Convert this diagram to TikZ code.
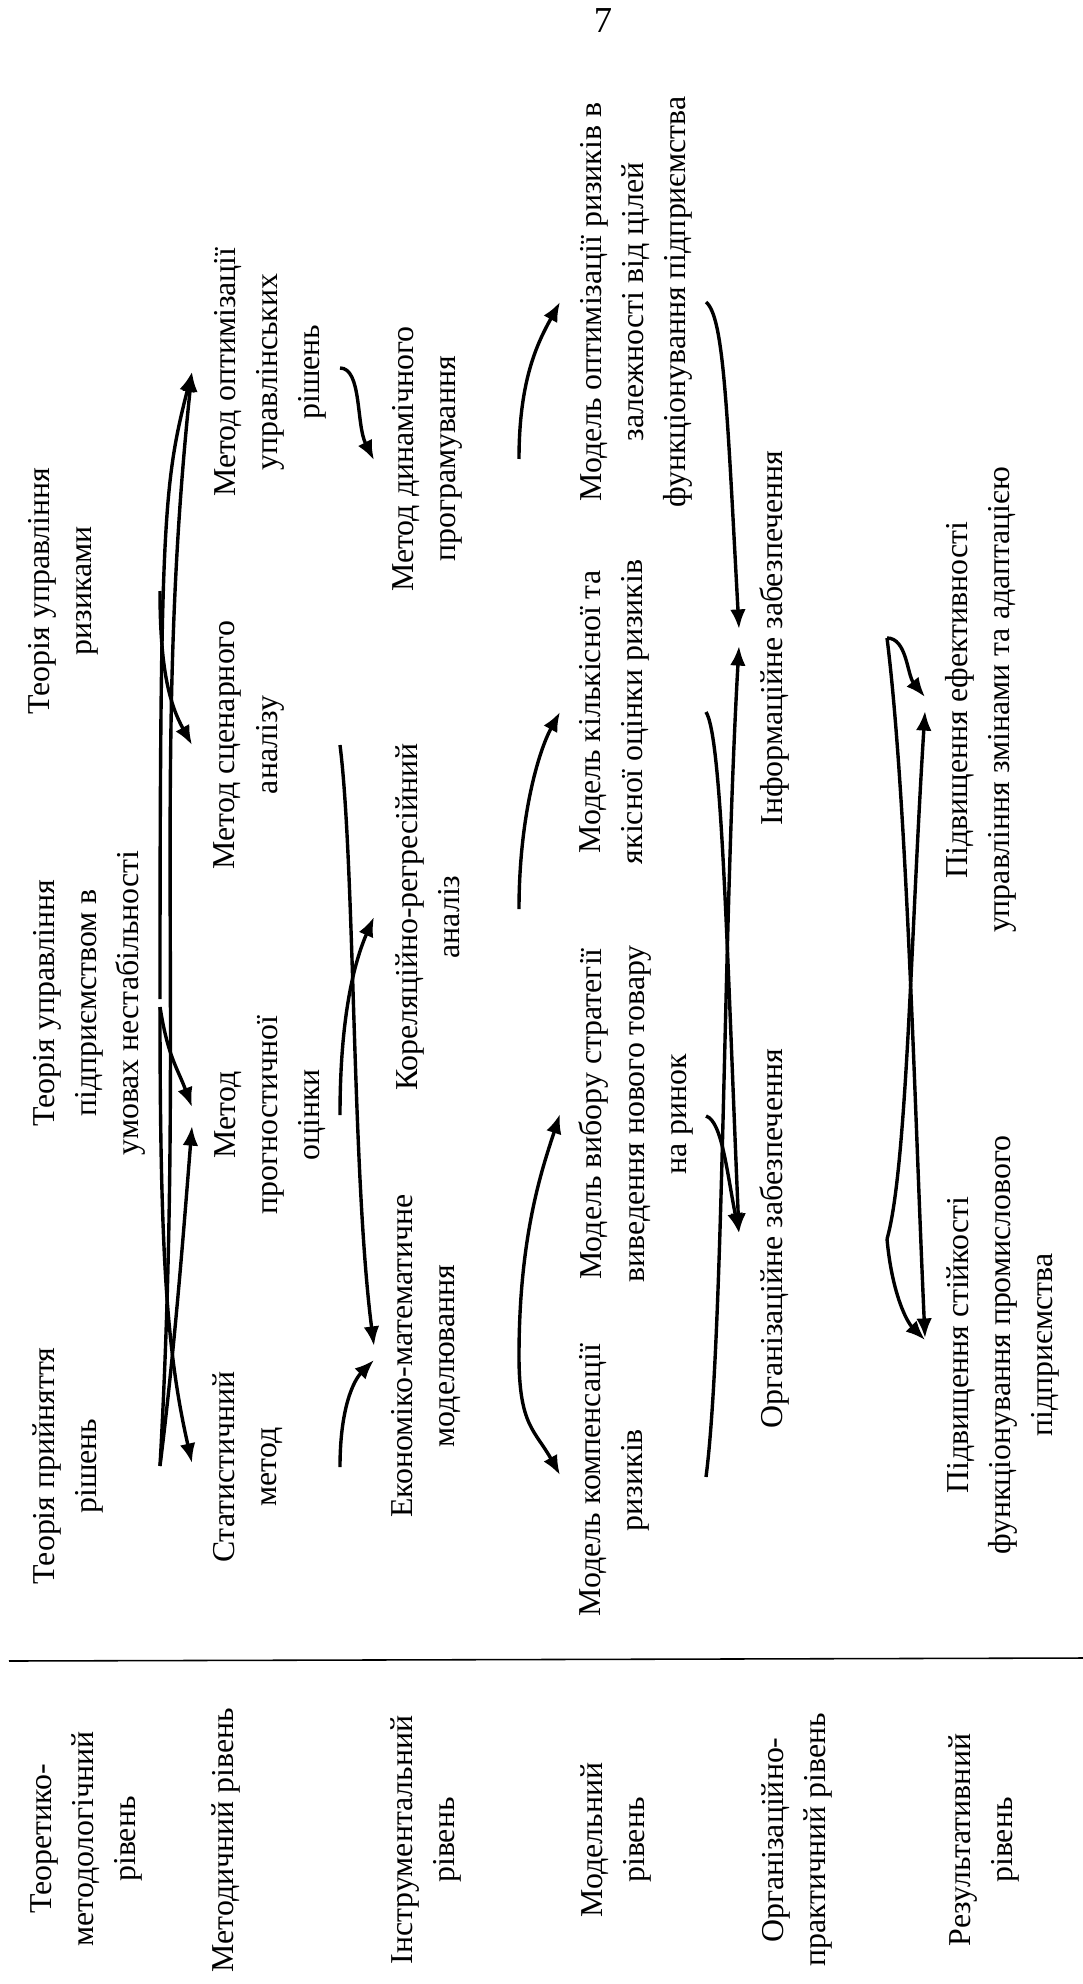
\documentclass[tikz,border=0pt]{standalone}
\usepackage{fontspec}
\setmainfont{Liberation Serif}
\usetikzlibrary{arrows.meta,calc,positioning}
\tikzset{
    block/.style={rotate=90,align=center,inner sep=0pt,font=\fontsize{12.2}{16.1}\selectfont},
    pagenum/.style={inner sep=0pt,font=\fontsize{14}{16.1}\selectfont},
    link/.style={-{Latex[length=7.5pt,width=6pt]},line width=1.3pt},
    sepline/.style={line width=0.6pt}
}

\begin{document}
\begin{tikzpicture}[x=0.383pt,y=-0.383pt]

    \useasboundingbox (0,0) rectangle (1083,1984);

    \node[pagenum] (page) at (603,21) {7};

    \coordinate (tOut)  at (160,0);
    \coordinate (mIn)   at (192,0);
    \coordinate (mOut)  at (340,0);
    \coordinate (iIn)   at (374,0);
    \coordinate (iOut)  at (519,0);
    \coordinate (moIn)  at (560,0);
    \coordinate (moOut) at (706,0);
    \coordinate (oIn)   at (739,0);
    \coordinate (oOut)  at (887,0);
    \coordinate (rIn)   at (925,0);

    \node[block] (t1) at (68,1466)  {Теорія прийняття\\рішень};
    \node[block] (t2) at (89,1003)  {Теорія управління\\підприємством в\\умовах нестабільності};
    \node[block] (t3) at (63,591)   {Теорія управління\\ризиками};

    \node[block] (m1) at (248,1467) {Статистичний\\метод};
    \node[block] (m2) at (270,1115) {Метод\\прогностичної\\оцінки};
    \node[block] (m3) at (249,745)  {Метод сценарного\\аналізу};
    \node[block] (m4) at (270,372)  {Метод оптимізації\\управлінських\\рішень};

    \node[block] (i1) at (426,1356) {Економіко-математичне\\моделювання};
    \node[block] (i2) at (428,917)  {Кореляційно-регресійний\\аналіз};
    \node[block] (i3) at (427,459)  {Метод динамічного\\програмування};

    \node[block] (mo1) at (614,1480) {Модель компенсації\\ризиків};
    \node[block] (mo2) at (636,1114) {Модель вибору стратегії\\виведення нового товару\\на ринок};
    \node[block] (mo3) at (614,712)  {Модель кількісної та\\якісної оцінки ризиків};
    \node[block] (mo4) at (636,302)  {Модель оптимізації ризиків в\\залежності від цілей\\функціонування підприємства};

    \node[block] (o1) at (774,1239) {Організаційне забезпечення};
    \node[block] (o2) at (774,638)  {Інформаційне забезпечення};

    \node[block] (r1) at (1003,1345) {Підвищення стійкості\\функціонування промислового\\підприємства};
    \node[block] (r2) at (981,700)   {Підвищення ефективності\\управління змінами та адаптацією};

    \coordinate (ruleL) at (9,1661);
    \coordinate (ruleR) at (1083,1658);
    \draw[sepline] (ruleL) -- (ruleR);

    \node[block] (l1) at (86,1839)  {Теоретико-\\методологічний\\рівень};
    \node[block] (l2) at (226,1840) {Методичний рівень};
    \node[block] (l3) at (426,1840) {Інструментальний\\рівень};
    \node[block] (l4) at (616,1840) {Модельний\\рівень};
    \node[block] (l5) at (797,1840) {Організаційно-\\практичний рівень};
    \node[block] (l6) at (984,1840) {Результативний\\рівень};

    \draw[link] (t1 -| tOut) .. controls +(15,-120) and +(-8,100) .. ($(m2 -| mIn)+(0,11)$);
    \draw[link] (t1 -| tOut) .. controls +(25,-450) and +(-40,380) .. (m4 -| mIn);
    \draw[link] ($(t2 -| tOut)+(0,4)$) .. controls +(0,250) and +(-25,-110) .. ($(m1 -| mIn)+(0,-4)$);
    \draw[link] ($(t2 -| tOut)+(0,4)$) .. controls +(8,50) and +(-15,-40) .. ($(m2 -| mIn)+(0,-8)$);
    \draw[link] ($(t2 -| tOut)+(0,-4)$) .. controls +(0,-480) and +(-28,110) .. (m4 -| mIn);
    \draw[link] (t3 -| tOut) .. controls +(0,80) and +(-22,-40) .. (m3 -| mIn);

    \draw[link] ($(m4 -| mOut)+(0,-4)$) .. controls +(22,0) and +(-18,-35) .. ($(i3 -| iIn)+(0,1)$);
    \draw[link] (m3 -| mOut) .. controls +(15,120) and +(-22,-170) .. ($(i1 -| iIn)+(0,-10)$);
    \draw[link] (m2 -| mOut) .. controls +(0,-90) and +(-22,50) .. (i2 -| iIn);
    \draw[link] (m1 -| mOut) .. controls +(0,-60) and +(-20,20) .. ($(i1 -| iIn)+(0,4)$);

    \draw[link] (i3 -| iOut) .. controls +(0,-80) and +(-22,40) .. (mo4 -| moIn);
    \draw[link] ($(i2 -| iOut)+(0,-8)$) .. controls +(0,-90) and +(-22,40) .. (mo3 -| moIn);
    \draw[link] (i1 -| iOut) .. controls +(0,-120) and +(-18,55) .. (mo2 -| moIn);
    \draw[link] (i1 -| iOut) .. controls +(0,70) and +(-25,-45) .. ($(mo1 -| moIn)+(0,-5)$);

    \draw[link] (mo4 -| moOut) .. controls +(18,15) and +(-12,-220) .. ($(o2 -| oIn)+(0,-9)$);
    \draw[link] (mo3 -| moOut) .. controls +(16,25) and +(-12,-280) .. ($(o1 -| oIn)+(0,-6)$);
    \draw[link] ($(mo2 -| moOut)+(0,2)$) .. controls +(16,5) and +(-12,-60) .. ($(o1 -| oIn)+(0,-6)$);
    \draw[link] ($(mo1 -| moOut)+(0,-3)$) .. controls +(18,-140) and +(-16,280) .. ($(o2 -| oIn)+(0,8)$);

    \draw[link] (o2 -| oOut) .. controls +(20,0) and +(-18,-22) .. ($(r2 -| rIn)+(0,-3)$);
    \draw[link] (o2 -| oOut) .. controls +(20,160) and +(-10,-220) .. ($(r1 -| rIn)+(0,-7)$);
    \draw[link] (o1 -| oOut) .. controls +(20,-70) and +(-14,220) .. ($(r2 -| rIn)+(0,11)$);
    \draw[link] (o1 -| oOut) .. controls +(5,55) and +(-18,-18) .. ($(r1 -| rIn)+(0,-5)$);

\end{tikzpicture}
\end{document}
